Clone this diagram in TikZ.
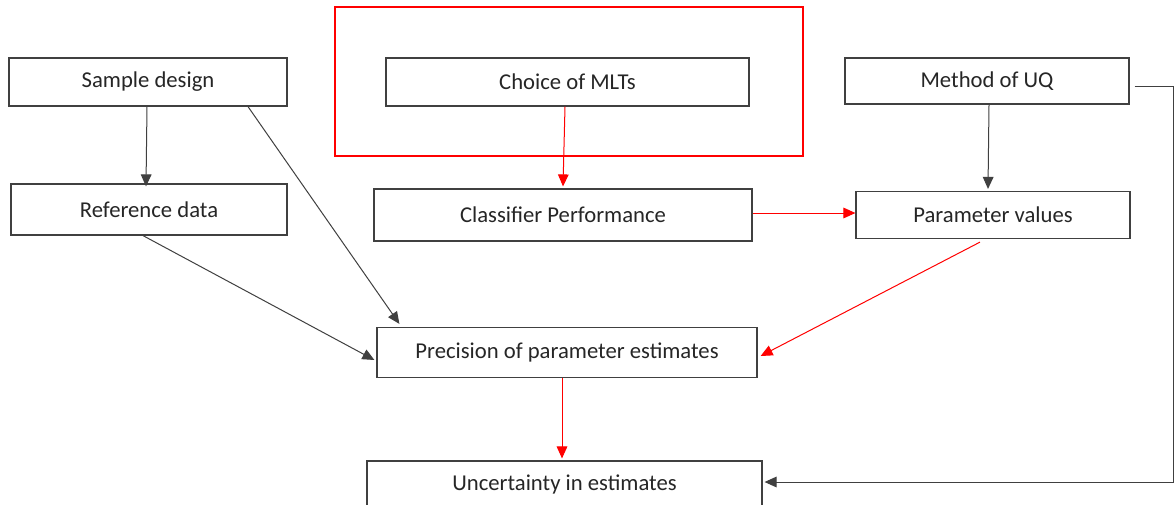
\documentclass[tikz,border=0pt]{standalone}
\usepackage{fontspec}
\setmainfont{Carlito}
\usetikzlibrary{arrows.meta,calc}
\definecolor{edge}{RGB}{64,64,64}
\definecolor{ink}{RGB}{38,38,38}
\begin{document}
\begin{tikzpicture}[x=0.75pt,y=-0.75pt,
  box/.style={draw=edge,line width=0.9pt,fill=white,inner sep=0pt,
    text=ink,font=\fontsize{17}{20}\selectfont,anchor=center},
  blk/.style={draw=black!75,line width=0.75pt,-{Triangle[length=9pt,width=8pt]}},
  rd/.style={draw=red,line width=0.75pt,-{Triangle[length=9pt,width=8pt]}}]
\useasboundingbox (0,0) rectangle (1176,504);
\clip (0,0) rectangle (1176,504);
\fill[white] (0,0) rectangle (1176,504);

% highlighted group around the choice of techniques
\draw[red,line width=1.5pt] (335,7) rectangle (803,156);

\node[box,minimum width=278*0.75pt,minimum height=48*0.75pt] (sd) at (148,82) {Sample design};
\node[box,minimum width=363*0.75pt,minimum height=48*0.75pt] (ch) at (567.5,82) {Choice of MLTs};
\node[box,minimum width=284*0.75pt,minimum height=46*0.75pt] (uq) at (987,81) {Method of UQ};
\node[box,minimum width=276*0.75pt,minimum height=51*0.75pt] (ref) at (149,209.5) {Reference data};
\node[box,minimum width=378*0.75pt,minimum height=52*0.75pt] (cp) at (563,215) {Classifier Performance};
\node[box,minimum width=274*0.75pt,minimum height=47*0.75pt] (pv) at (993,215) {Parameter values};
\node[box,minimum width=380*0.75pt,minimum height=50*0.75pt] (pe) at (567,352.5) {Precision of parameter estimates};
\node[box,minimum width=395*0.75pt,minimum height=47*0.75pt] (un) at (564.5,484.5) {Uncertainty in estimates};

% connectors
\draw[blk] ($(sd.south)+(-1,0)$) -- ($(ref.north)+(-3,3)$);
\draw[blk] ($(sd.south)+(100,0)$) -- ($(pe.north west)+(23,-3)$);
\draw[blk] ($(ref.south)+(-6,0)$) -- ($(pe.west)+(-2,7.5)$);
\draw[rd] ($(ch.south)+(-2.5,0)$) -- ($(cp.north)+(0,-2)$);
\draw[rd] ($(cp.east)+(0,-2)$) -- ($(pv.west)+(0,-2)$);
\draw[blk] ($(uq.south)+(2,0)$) -- ($(pv.north)+(-5,-2)$);
\draw[rd] ($(pv.south)+(-13,3)$) -- ($(pe.east)+(3,3.5)$);
\draw[rd] ($(pe.south)+(-5,0)$) -- ($(un.north)+(-2.5,-2)$);
\draw[blk,draw=edge] ($(uq.east)+(5,5)$) -- ++(39,0) |- ($(un.east)+(2,-2.5)$);
\end{tikzpicture}
\end{document}
